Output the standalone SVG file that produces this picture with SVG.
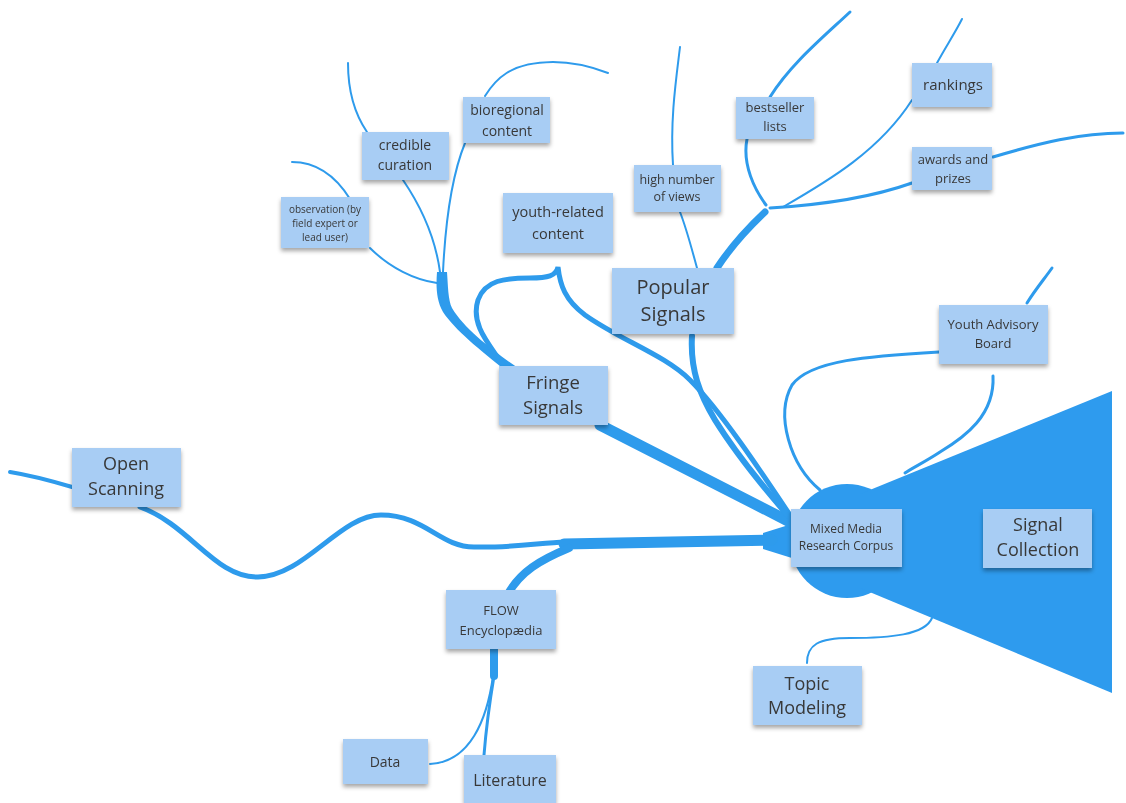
<svg xmlns="http://www.w3.org/2000/svg" width="1126" height="803" viewBox="0 0 1126 803">
<defs>
<style>
.l{fill:none;stroke:#2e9bec;stroke-linecap:round}
.n rect{fill:#a8cdf4}
.n text{font-family:"Open Sans","Liberation Sans",sans-serif;fill:#383838;text-anchor:middle}
</style>
<filter id="sh" x="-10%" y="-10%" width="120%" height="130%">
<feDropShadow dx="0" dy="3" stdDeviation="2" flood-color="#000" flood-opacity="0.35"/>
</filter>
</defs>
<rect width="1126" height="803" fill="#fff"/>
<g id="funnel" fill="#2e9bee">
<circle cx="847" cy="541" r="57"/>
<polygon points="860,494 1112,391 1112,693 860,588"/>
<polygon points="763,533 795,523 795,559 763,549"/>
</g>
<g id="connectors">
<!-- open scanning -->
<path class="l" stroke-width="4" d="M10,472 C35,476 55,482 72,487"/>
<path class="l" stroke-width="5" d="M140,507 C190,525 215,578 258,577 C305,576 340,515 381,515 C425,515 440,547 474,547 C510,548 540,543 565,542"/>
<path class="l" stroke-width="11" stroke-linecap="butt" d="M564,544 L772,540"/>
<path class="l" stroke-width="8" stroke-linecap="butt" d="M569,548 C540,560 520,572 508,594"/>
<!-- flow -->
<path class="l" stroke-width="8" stroke-linecap="butt" d="M494,649 L494,676"/>
<path class="l" stroke-width="2" d="M493,676 C487,720 470,762 430,764"/>
<path class="l" stroke-width="3" d="M494,676 C490,700 486,730 484,755"/>
<!-- fringe -->
<path class="l" stroke-width="11" d="M600,425 L792,523"/>
<path d="M437,272 L447,272 C448,285 448,300 452,308 C465,330 495,352 518,368 L505,370 C480,350 455,330 443,312 C436,300 436,285 437,272 Z" fill="#2e9bec"/>
<path class="l" stroke-width="5" d="M503,365 C490,345 470,325 478,300 C485,280 505,278 530,278 C548,278 556,276 558,267 C560,285 565,300 585,315 C620,340 665,355 690,380 C720,410 760,470 792,518"/>
<!-- popular -->
<path class="l" stroke-width="6" d="M692,336 C690,370 700,395 715,420 C740,460 770,495 792,520"/>
<path class="l" stroke-width="7" stroke-linecap="butt" d="M717,268 C730,248 748,228 765,212"/>
<path class="l" stroke-width="2" d="M680,212 C687,230 692,250 697,268"/>
<path class="l" stroke-width="2" d="M673,165 C670,120 676,80 680,47"/>
<path class="l" stroke-width="3" d="M747,139 C742,165 755,190 766,205"/>
<path class="l" stroke-width="2" d="M783,207 C830,180 880,150 912,100"/>
<path class="l" stroke-width="3" d="M770,208 C820,205 870,198 912,183"/>
<path class="l" stroke-width="3" d="M770,97 C790,65 820,40 850,12"/>
<path class="l" stroke-width="2" d="M937,63 C945,48 955,33 962,19"/>
<path class="l" stroke-width="3" d="M993,157 C1040,143 1080,133 1123,133"/>
<!-- fringe subbranches -->
<path class="l" stroke-width="2" d="M465,143 C450,180 445,230 443,272"/>
<path class="l" stroke-width="2" d="M485,96 C495,80 510,62 553,62 C575,62 595,68 608,73"/>
<path class="l" stroke-width="2" d="M403,180 C420,205 435,235 440,272"/>
<path class="l" stroke-width="2" d="M367,132 C352,110 348,85 348,63"/>
<path class="l" stroke-width="2" d="M350,199 C335,175 315,162 292,162"/>
<path class="l" stroke-width="2" d="M370,248 C390,268 415,280 437,283"/>
<!-- youth advisory board -->
<path class="l" stroke-width="3" d="M939,352 C870,356 810,360 792,385 C775,415 790,465 820,490"/>
<path class="l" stroke-width="3" d="M1027,303 C1035,290 1045,278 1052,268"/>
<path class="l" stroke-width="3" d="M993,376 C995,415 965,437 940,452 C925,462 912,468 905,473"/>
<!-- topic modeling -->
<path class="l" stroke-width="2" d="M807,663 C807,645 818,638 850,638 C890,638 925,635 932,618"/>
</g>
<g id="observation" class="n" filter="url(#sh)"><rect x="281" y="197" width="88" height="51"/><text font-size="10"><tspan x="325" y="213">observation (by</tspan><tspan x="325" y="227">field expert or</tspan><tspan x="325" y="241">lead user)</tspan></text></g>
<g id="credible-curation" class="n" filter="url(#sh)"><rect x="362" y="132" width="87" height="48"/><text font-size="14"><tspan x="405" y="150">credible</tspan><tspan x="405" y="170">curation</tspan></text></g>
<g id="bioregional" class="n" filter="url(#sh)"><rect x="463" y="97" width="87" height="46"/><text font-size="14"><tspan x="507" y="115">bioregional</tspan><tspan x="507" y="136">content</tspan></text></g>
<g id="youth-related" class="n" filter="url(#sh)"><rect x="503" y="193" width="110" height="60"/><text font-size="14.5"><tspan x="558" y="217">youth-related</tspan><tspan x="558" y="239">content</tspan></text></g>
<g id="high-views" class="n" filter="url(#sh)"><rect x="634" y="165" width="87" height="47"/><text font-size="12.5"><tspan x="677" y="184">high number</tspan><tspan x="677" y="201">of views</tspan></text></g>
<g id="bestseller" class="n" filter="url(#sh)"><rect x="736" y="97" width="78" height="42"/><text font-size="13"><tspan x="775" y="112">bestseller</tspan><tspan x="775" y="131">lists</tspan></text></g>
<g id="rankings" class="n" filter="url(#sh)"><rect x="912" y="63" width="80" height="44"/><text font-size="15"><tspan x="953" y="90">rankings</tspan></text></g>
<g id="awards" class="n" filter="url(#sh)"><rect x="912" y="147" width="80" height="43"/><text font-size="13"><tspan x="953" y="164">awards and</tspan><tspan x="953" y="183">prizes</tspan></text></g>
<g id="popular-signals" class="n" filter="url(#sh)"><rect x="612" y="268" width="122" height="66"/><text font-size="20"><tspan x="673" y="294">Popular</tspan><tspan x="673" y="321">Signals</tspan></text></g>
<g id="fringe-signals" class="n" filter="url(#sh)"><rect x="499" y="366" width="109" height="59"/><text font-size="18.5"><tspan x="553" y="389">Fringe</tspan><tspan x="553" y="414">Signals</tspan></text></g>
<g id="youth-advisory" class="n" filter="url(#sh)"><rect x="939" y="305" width="109" height="59"/><text font-size="13"><tspan x="993" y="329">Youth Advisory</tspan><tspan x="993" y="348">Board</tspan></text></g>
<g id="open-scanning" class="n" filter="url(#sh)"><rect x="72" y="448" width="109" height="59"/><text font-size="18"><tspan x="126" y="470">Open</tspan><tspan x="126" y="495">Scanning</tspan></text></g>
<g id="mixed-media" class="n" filter="url(#sh)"><rect x="791" y="509" width="111" height="58"/><text font-size="12"><tspan x="846" y="533">Mixed Media</tspan><tspan x="846" y="550">Research Corpus</tspan></text></g>
<g id="signal-collection" class="n" filter="url(#sh)"><rect x="983" y="509" width="109" height="59"/><text font-size="18"><tspan x="1038" y="531">Signal</tspan><tspan x="1038" y="556">Collection</tspan></text></g>
<g id="flow" class="n" filter="url(#sh)"><rect x="446" y="590" width="110" height="59"/><text font-size="13"><tspan x="501" y="615">FLOW</tspan><tspan x="501" y="635">Encyclopædia</tspan></text></g>
<g id="topic-modeling" class="n" filter="url(#sh)"><rect x="753" y="666" width="109" height="59"/><text font-size="18"><tspan x="807" y="690">Topic</tspan><tspan x="807" y="714">Modeling</tspan></text></g>
<g id="data" class="n" filter="url(#sh)"><rect x="343" y="739" width="85" height="45"/><text font-size="14"><tspan x="385" y="767">Data</tspan></text></g>
<g id="literature" class="n" filter="url(#sh)"><rect x="464" y="755" width="92" height="48"/><text font-size="16"><tspan x="510" y="786">Literature</tspan></text></g>
</svg>
